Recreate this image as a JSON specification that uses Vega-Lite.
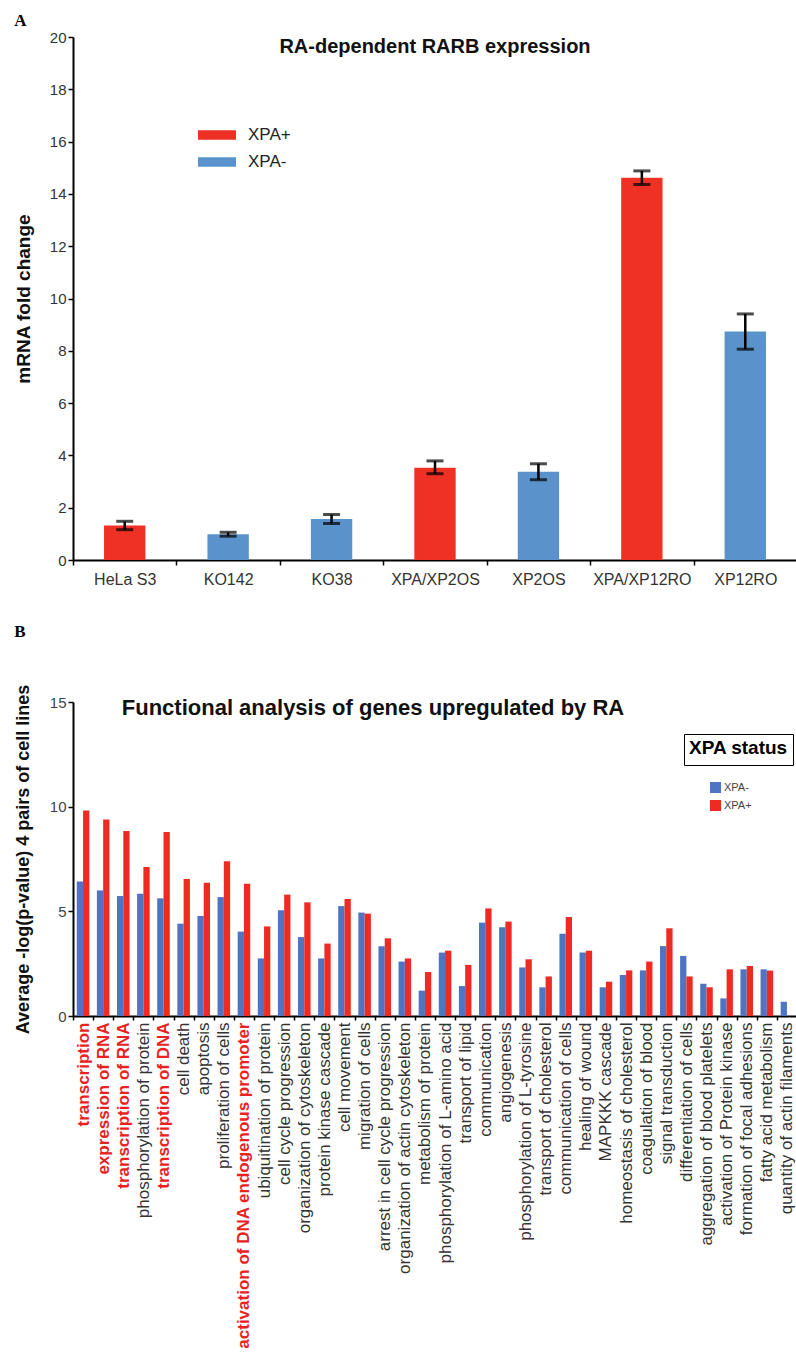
{
  "$schema": "https://vega.github.io/schema/vega-lite/v6.json",
  "background": "white",
  "padding": {"left": 14, "top": 12, "right": 0, "bottom": 5},
  "config": {
    "view": {"stroke": null},
    "font": "Liberation Sans",
    "axis": {"grid": false, "domainColor": "#000", "domainWidth": 2, "tickColor": "#000", "tickWidth": 1.5, "labelFont": "Liberation Sans", "titleFont": "Liberation Sans"},
    "legend": {"padding": 0}
  },
  "spacing": 36,
  "resolve": {"scale": {"color": "independent", "shape": "independent"}, "legend": {"color": "independent", "shape": "independent"}},
  "vconcat": [
    {
      "title": {"text": "A", "anchor": "start", "frame": "bounds", "font": "Liberation Serif", "fontSize": 17, "fontWeight": "bold", "offset": 0, "color": "#000"},
      "vconcat": [
        {
          "width": 724,
          "height": 523,
          "title": {"text": "RA-dependent RARB expression", "fontSize": 20, "fontWeight": "bold", "anchor": "middle", "dx": 0, "offset": -27, "color": "#111"},
          "data": {"values": [
            {"cell": "HeLa S3", "status": "XPA+", "value": 1.32, "lo": 1.16, "hi": 1.48},
            {"cell": "KO142", "status": "XPA-", "value": 0.98, "lo": 0.91, "hi": 1.06},
            {"cell": "KO38", "status": "XPA-", "value": 1.57, "lo": 1.40, "hi": 1.74},
            {"cell": "XPA/XP2OS", "status": "XPA+", "value": 3.53, "lo": 3.30, "hi": 3.79},
            {"cell": "XP2OS", "status": "XPA-", "value": 3.37, "lo": 3.07, "hi": 3.68},
            {"cell": "XPA/XP12RO", "status": "XPA+", "value": 14.62, "lo": 14.36, "hi": 14.88},
            {"cell": "XP12RO", "status": "XPA-", "value": 8.74, "lo": 8.06, "hi": 9.41}
          ]},
          "encoding": {
            "x": {"field": "cell", "type": "nominal", "sort": null, "scale": {"paddingInner": 0, "paddingOuter": 0},
              "axis": {"title": null, "labelAngle": 0, "tickBand": "extent", "labelFontSize": 16, "labelColor": "#333", "labelPadding": 6, "tickSize": 5}}
          },
          "layer": [
            {
              "mark": {"type": "bar", "width": {"band": 0.4}},
              "encoding": {
                "y": {"field": "value", "type": "quantitative", "scale": {"domain": [0, 20]},
                  "axis": {"title": "mRNA fold change", "values": [0, 2, 4, 6, 8, 10, 12, 14, 16, 18, 20], "labelFontSize": 15, "labelColor": "#333", "tickSize": 5, "titleFontSize": 19, "titleFontWeight": "bold", "titleColor": "#111", "titlePadding": 16}},
                "color": {"field": "status", "type": "nominal",
                  "scale": {"domain": ["XPA+", "XPA-"], "range": ["#EE3124", "#5A93CC"]},
                  "legend": {"orient": "none", "legendX": 125, "legendY": 79, "title": null, "symbolType": "M-1,-0.25H1V0.25H-1Z", "symbolSize": 1444, "symbolStrokeWidth": 0, "labelFontSize": 17, "labelColor": "#222", "rowPadding": 0, "labelOffset": 12}}
              }
            },
            {
              "mark": {"type": "errorbar", "color": "black", "ticks": {"size": 17, "thickness": 3}, "rule": {"strokeWidth": 2.5}},
              "encoding": {
                "y": {"field": "lo", "type": "quantitative", "title": "mRNA fold change"},
                "y2": {"field": "hi"}
              }
            }
          ]
        }
      ]
    },
    {
      "title": {"text": "B", "anchor": "start", "frame": "bounds", "font": "Liberation Serif", "fontSize": 17, "fontWeight": "bold", "offset": 43, "color": "#000"},
      "vconcat": [
        {
          "width": 724,
          "height": 314,
          "title": {"text": "Functional analysis of genes upregulated by RA", "fontSize": 22, "fontWeight": "bold", "anchor": "middle", "dx": -62, "offset": -36, "color": "#111"},
          "data": {"values": [
            {"term": "transcription", "status": "XPA-", "value": 6.42}, {"term": "transcription", "status": "XPA+", "value": 9.82},
            {"term": "expression of RNA", "status": "XPA-", "value": 6.00}, {"term": "expression of RNA", "status": "XPA+", "value": 9.39},
            {"term": "transcription of RNA", "status": "XPA-", "value": 5.73}, {"term": "transcription of RNA", "status": "XPA+", "value": 8.84},
            {"term": "phosphorylation of protein", "status": "XPA-", "value": 5.84}, {"term": "phosphorylation of protein", "status": "XPA+", "value": 7.12},
            {"term": "transcription of DNA", "status": "XPA-", "value": 5.62}, {"term": "transcription of DNA", "status": "XPA+", "value": 8.79},
            {"term": "cell death", "status": "XPA-", "value": 4.41}, {"term": "cell death", "status": "XPA+", "value": 6.54},
            {"term": "apoptosis", "status": "XPA-", "value": 4.78}, {"term": "apoptosis", "status": "XPA+", "value": 6.37},
            {"term": "proliferation of cells", "status": "XPA-", "value": 5.68}, {"term": "proliferation of cells", "status": "XPA+", "value": 7.39},
            {"term": "activation of DNA endogenous promoter", "status": "XPA-", "value": 4.03}, {"term": "activation of DNA endogenous promoter", "status": "XPA+", "value": 6.32},
            {"term": "ubiquitination of protein", "status": "XPA-", "value": 2.75}, {"term": "ubiquitination of protein", "status": "XPA+", "value": 4.28},
            {"term": "cell cycle progression", "status": "XPA-", "value": 5.05}, {"term": "cell cycle progression", "status": "XPA+", "value": 5.80},
            {"term": "organization of cytoskeleton", "status": "XPA-", "value": 3.77}, {"term": "organization of cytoskeleton", "status": "XPA+", "value": 5.43},
            {"term": "protein kinase cascade", "status": "XPA-", "value": 2.75}, {"term": "protein kinase cascade", "status": "XPA+", "value": 3.46},
            {"term": "cell movement", "status": "XPA-", "value": 5.25}, {"term": "cell movement", "status": "XPA+", "value": 5.59},
            {"term": "migration of cells", "status": "XPA-", "value": 4.94}, {"term": "migration of cells", "status": "XPA+", "value": 4.89},
            {"term": "arrest in cell cycle progression", "status": "XPA-", "value": 3.33}, {"term": "arrest in cell cycle progression", "status": "XPA+", "value": 3.71},
            {"term": "organization of actin cytoskeleton", "status": "XPA-", "value": 2.60}, {"term": "organization of actin cytoskeleton", "status": "XPA+", "value": 2.75},
            {"term": "metabolism of protein", "status": "XPA-", "value": 1.21}, {"term": "metabolism of protein", "status": "XPA+", "value": 2.10},
            {"term": "phosphorylation of L-amino acid", "status": "XPA-", "value": 3.03}, {"term": "phosphorylation of L-amino acid", "status": "XPA+", "value": 3.12},
            {"term": "transport of lipid", "status": "XPA-", "value": 1.43}, {"term": "transport of lipid", "status": "XPA+", "value": 2.44},
            {"term": "communication", "status": "XPA-", "value": 4.46}, {"term": "communication", "status": "XPA+", "value": 5.14},
            {"term": "angiogenesis", "status": "XPA-", "value": 4.24}, {"term": "angiogenesis", "status": "XPA+", "value": 4.51},
            {"term": "phosphorylation of L-tyrosine", "status": "XPA-", "value": 2.32}, {"term": "phosphorylation of L-tyrosine", "status": "XPA+", "value": 2.71},
            {"term": "transport of cholesterol", "status": "XPA-", "value": 1.37}, {"term": "transport of cholesterol", "status": "XPA+", "value": 1.89},
            {"term": "communication of cells", "status": "XPA-", "value": 3.93}, {"term": "communication of cells", "status": "XPA+", "value": 4.73},
            {"term": "healing of wound", "status": "XPA-", "value": 3.03}, {"term": "healing of wound", "status": "XPA+", "value": 3.12},
            {"term": "MAPKKK cascade", "status": "XPA-", "value": 1.37}, {"term": "MAPKKK cascade", "status": "XPA+", "value": 1.64},
            {"term": "homeostasis of cholesterol", "status": "XPA-", "value": 1.96}, {"term": "homeostasis of cholesterol", "status": "XPA+", "value": 2.18},
            {"term": "coagulation of blood", "status": "XPA-", "value": 2.18}, {"term": "coagulation of blood", "status": "XPA+", "value": 2.60},
            {"term": "signal transduction", "status": "XPA-", "value": 3.34}, {"term": "signal transduction", "status": "XPA+", "value": 4.19},
            {"term": "differentiation of cells", "status": "XPA-", "value": 2.87}, {"term": "differentiation of cells", "status": "XPA+", "value": 1.89},
            {"term": "aggregation of blood platelets", "status": "XPA-", "value": 1.54}, {"term": "aggregation of blood platelets", "status": "XPA+", "value": 1.37},
            {"term": "activation of Protein kinase", "status": "XPA-", "value": 0.84}, {"term": "activation of Protein kinase", "status": "XPA+", "value": 2.23},
            {"term": "formation of focal adhesions", "status": "XPA-", "value": 2.23}, {"term": "formation of focal adhesions", "status": "XPA+", "value": 2.39},
            {"term": "fatty acid metabolism", "status": "XPA-", "value": 2.23}, {"term": "fatty acid metabolism", "status": "XPA+", "value": 2.17},
            {"term": "quantity of actin filaments", "status": "XPA-", "value": 0.68}
          ]},
          "encoding": {
            "x": {"field": "term", "type": "nominal", "sort": null, "scale": {"paddingInner": 0, "paddingOuter": 0},
              "axis": {"title": null, "labelAngle": -90, "labelFontSize": 17, "labelLimit": 400, "tickBand": "extent", "tickSize": 4, "labelPadding": 2,
                "labelColor": {"condition": {"test": "indexof(['transcription','expression of RNA','transcription of RNA','transcription of DNA','activation of DNA endogenous promoter'], datum.value) >= 0", "value": "#E8231F"}, "value": "#333"},
                "labelFontWeight": {"condition": {"test": "indexof(['transcription','expression of RNA','transcription of RNA','transcription of DNA','activation of DNA endogenous promoter'], datum.value) >= 0", "value": "bold"}, "value": "normal"}}},
            "y": {"field": "value", "type": "quantitative", "scale": {"domain": [0, 15]},
              "axis": {"title": "Average -log(p-value) 4 pairs of cell lines", "values": [0, 5, 10, 15], "labelFontSize": 15, "labelColor": "#444", "tickSize": 5, "titleFontSize": 18, "titleFontWeight": "bold", "titleColor": "#111", "titlePadding": 17}}
          },
          "layer": [
            {
              "mark": {"type": "bar"},
              "encoding": {
                "xOffset": {"field": "status", "type": "nominal", "sort": ["XPA-", "XPA+"], "scale": {"domain": ["XPA-", "XPA+"], "paddingInner": 0, "paddingOuter": 0.6}},
                "color": {"field": "status", "type": "nominal",
                  "scale": {"domain": ["XPA-", "XPA+"], "range": ["#4F74C4", "#EE2A22"]},
                  "legend": {"orient": "none", "legendX": 637, "legendY": 80, "title": null, "symbolType": "square", "symbolSize": 121, "symbolStrokeWidth": 0, "labelFontSize": 11, "labelColor": "#444", "rowPadding": 6, "labelOffset": 3}}
              }
            },
            {
              "mark": {"type": "point", "opacity": 0},
              "encoding": {
                "shape": {"datum": "XPA status",
                  "legend": {"orient": "none", "legendX": 611, "legendY": 32, "title": "XPA status", "titleFontSize": 19, "titleFontWeight": "bold", "titleColor": "#000", "titlePadding": 0, "strokeColor": "#000", "padding": 5, "labelExpr": "''", "symbolSize": 1, "symbolOpacity": 0, "labelFontSize": 1, "rowPadding": 0}}
              }
            }
          ]
        }
      ]
    }
  ]
}
